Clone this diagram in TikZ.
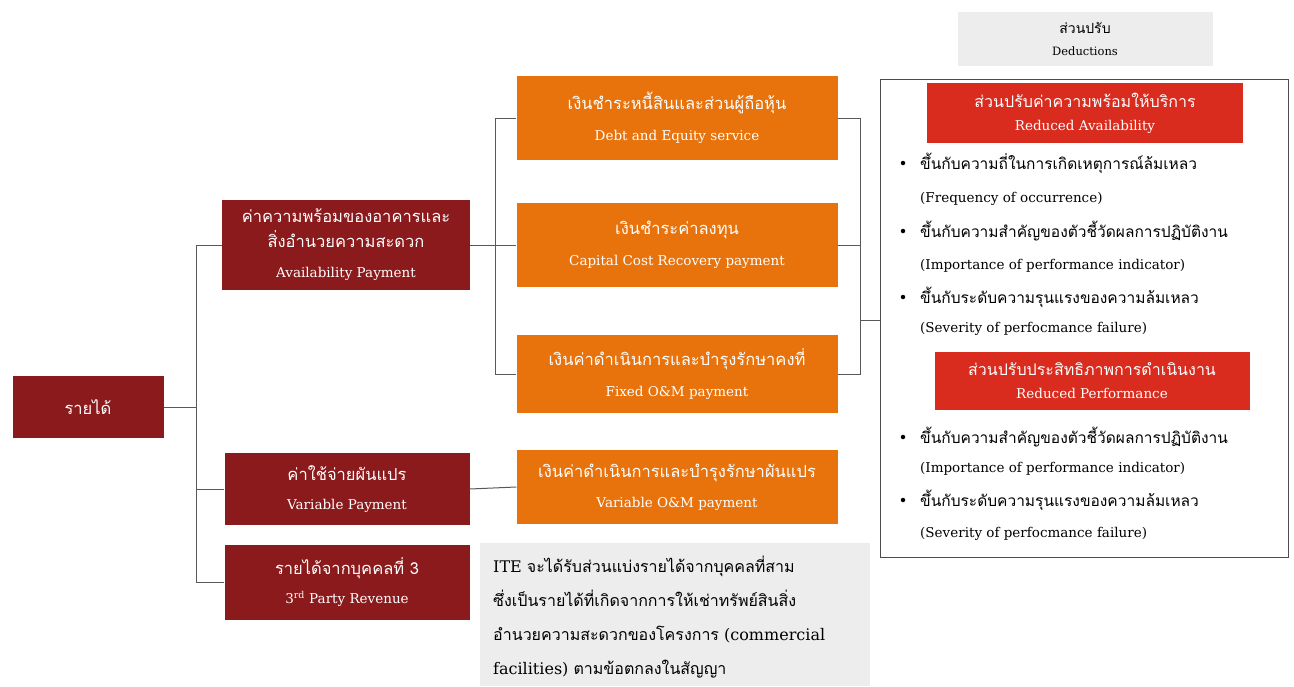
\documentclass[tikz,border=0pt]{standalone}
\usepackage{fontspec}
\setmainfont{DejaVu Serif}
\newfontfamily\thaifont[Script=Thai]{Loma}
\usetikzlibrary{positioning}
\newcommand{\tha}[1]{{\thaifont #1}}
\newcommand{\eng}[1]{{\fontsize{13.5}{16}\selectfont #1}}
\definecolor{darkred}{HTML}{8B1A1C}
\definecolor{payorange}{HTML}{E8730C}
\definecolor{dedred}{HTML}{D92B1E}
\definecolor{notegray}{HTML}{EDEDED}

\begin{document}
\begin{tikzpicture}[x=1pt,y=-1pt,
    mainbox/.style={fill=darkred, text=white, align=center, inner sep=0pt,
                    font=\fontsize{16.5}{18}\selectfont},
    paybox/.style={fill=payorange, text=white, align=center, inner sep=0pt,
                   minimum width=321pt, font=\fontsize{16.5}{18}\selectfont},
    redbox/.style={fill=dedred, text=white, align=center, inner sep=0pt,
                   font=\fontsize{16}{18}\selectfont},
    link/.style={draw=black!65, line width=1pt},
    thline/.style={anchor=west, inner sep=0pt, font=\fontsize{15.5}{17}\selectfont},
    enline/.style={anchor=west, inner sep=0pt, font=\fontsize{13.5}{15}\selectfont},
    dot/.style={circle, fill=black, inner sep=0pt, minimum size=4.5pt}]
  \useasboundingbox (0,0) rectangle (1294,686);

  % revenue and its three parts
  \node[mainbox, minimum width=151pt, minimum height=62pt] (rev) at (88,407)
    {\tha{รายได้}};
  \node[mainbox, minimum width=248pt, minimum height=90pt] (avail) at (346,245)
    {\tha{ค่าความพร้อมของอาคารและ}\\[7pt]
     \tha{สิ่งอำนวยความสะดวก}\\[12pt]
     \eng{Availability Payment}};
  \node[mainbox, minimum width=245pt, minimum height=72pt] (varpay) at (347,489)
    {\tha{ค่าใช้จ่ายผันแปร}\\[11pt]
     \eng{Variable Payment}};
  \node[mainbox, minimum width=245pt, minimum height=75pt] (third) at (347,582)
    {\tha{รายได้จากบุคคลที่ 3}\\[11pt]
     \eng{3\textsuperscript{rd} Party Revenue}};

  % payment components
  \node[paybox, minimum height=84pt] (debt) at (677,118)
    {\tha{เงินชำระหนี้สินและส่วนผู้ถือหุ้น}\\[13pt]
     \eng{Debt and Equity service}};
  \node[paybox, minimum height=84pt] (capital) at (677,245)
    {\tha{เงินชำระค่าลงทุน}\\[13pt]
     \eng{Capital Cost Recovery payment}};
  \node[paybox, minimum height=78pt] (fixed) at (677,374)
    {\tha{เงินค่าดำเนินการและบำรุงรักษาคงที่}\\[13pt]
     \eng{Fixed O\&M payment}};
  \node[paybox, minimum height=74pt] (varom) at (677,487)
    {\tha{เงินค่าดำเนินการและบำรุงรักษาผันแปร}\\[12pt]
     \eng{Variable O\&M payment}};

  % note on third party revenue
  \node[fill=notegray, minimum width=390pt, minimum height=143pt, inner sep=0pt]
    (note) at (675,614.5) {};
  \node[anchor=north west, align=left, inner sep=0pt,
        font=\fontsize{16}{34}\selectfont] (notetext) at (493,556)
    {ITE \tha{จะได้รับส่วนแบ่งรายได้จากบุคคลที่สาม}\\
     \tha{ซึ่งเป็นรายได้ที่เกิดจากการให้เช่าทรัพย์สินสิ่ง}\\
     \tha{อำนวยความสะดวกของโครงการ} (commercial\\
     facilities) \tha{ตามข้อตกลงในสัญญา}};

  % deductions
  \node[fill=notegray, minimum width=255pt, minimum height=54pt, inner sep=0pt,
        align=center, font=\fontsize{14}{16}\selectfont] (ded) at (1085,39)
    {\tha{ส่วนปรับ}\\[6pt]
     {\fontsize{11.5}{13}\selectfont Deductions}};
  \node[draw=black!70, line width=0.8pt, minimum width=408pt, minimum height=478pt,
        inner sep=0pt] (dedbox) at (1084,318) {};
  \node[redbox, minimum width=316pt, minimum height=60pt] (redavail) at (1085,113)
    {\tha{ส่วนปรับค่าความพร้อมให้บริการ}\\[5pt]
     \eng{Reduced Availability}};
  \node[redbox, minimum width=315pt, minimum height=58pt] (redperf) at (1092,381)
    {\tha{ส่วนปรับประสิทธิภาพการดำเนินงาน}\\[5pt]
     \eng{Reduced Performance}};

  \node[dot] (b1) at (903,163) {};
  \node[thline] (t1) at (920,163) {\tha{ขึ้นกับความถี่ในการเกิดเหตุการณ์ล้มเหลว}};
  \node[enline] (e1) at (920,199) {(Frequency of occurrence)};
  \node[dot] (b2) at (903,231) {};
  \node[thline] (t2) at (920,231) {\tha{ขึ้นกับความสำคัญของตัวชี้วัดผลการปฏิบัติงาน}};
  \node[enline] (e2) at (920,266) {(Importance of performance indicator)};
  \node[dot] (b3) at (903,297) {};
  \node[thline] (t3) at (920,297) {\tha{ขึ้นกับระดับความรุนแรงของความล้มเหลว}};
  \node[enline] (e3) at (920,329) {(Severity of perfocmance failure)};
  \node[dot] (b4) at (903,437) {};
  \node[thline] (t4) at (920,437) {\tha{ขึ้นกับความสำคัญของตัวชี้วัดผลการปฏิบัติงาน}};
  \node[enline] (e4) at (920,469) {(Importance of performance indicator)};
  \node[dot] (b5) at (903,500) {};
  \node[thline] (t5) at (920,500) {\tha{ขึ้นกับระดับความรุนแรงของความล้มเหลว}};
  \node[enline] (e5) at (920,534) {(Severity of perfocmance failure)};

  % connectors
  \coordinate (revfork) at (196.5,407);
  \draw[link] (rev.east) -- (revfork);
  \draw[link] (avail.west) -| (revfork) |- (third.west);
  \draw[link] (varpay.west) -- (varpay.west -| revfork);
  \coordinate (payfork) at (495.5,245);
  \draw[link] (avail.east) -- (capital.west);
  \draw[link] (debt.west) -| (payfork) |- (fixed.west);
  \draw[link] (varpay.east) -- (varom.west);
  \coordinate (dedfork) at (860.5,320);
  \draw[link] (debt.east) -| (dedfork) |- (fixed.east);
  \draw[link] (capital.east) -- (capital.east -| dedfork);
  \draw[link] (dedfork) -- (dedfork -| dedbox.west);
\end{tikzpicture}
\end{document}
